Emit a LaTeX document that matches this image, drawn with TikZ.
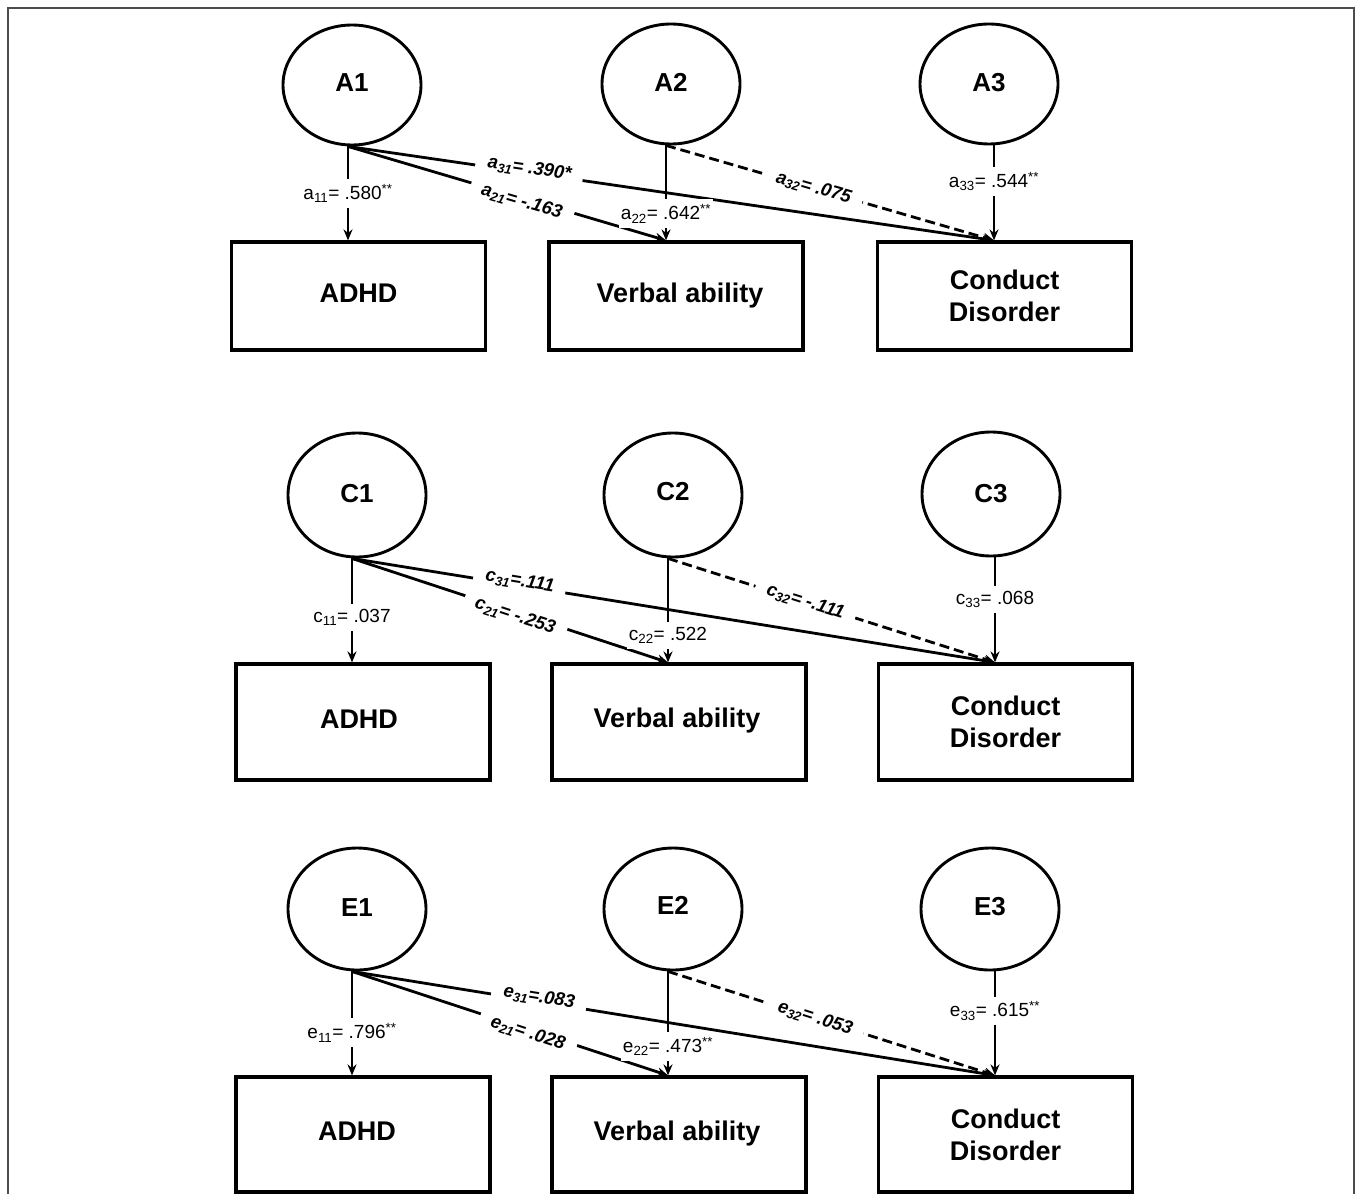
\documentclass[tikz,border=0pt]{standalone}
\usepackage{fontspec}
\setmainfont{Liberation Sans}
\usetikzlibrary{shapes.geometric,arrows.meta}
\begin{document}
\begin{tikzpicture}[x=1pt,y=-1pt]
\tikzset{
 lat/.style={ellipse, draw, line width=2.9pt, minimum width=138pt, minimum height=120pt, inner sep=0pt, font=\fontsize{26}{30}\selectfont\bfseries},
 obs/.style={rectangle, draw, line width=3.2pt, minimum width=254pt, inner sep=0pt, font=\fontsize{27}{32}\selectfont\bfseries, align=center},
 pth/.style={line width=2.8pt, -{Stealth[length=11pt,width=9pt]}},
 dpth/.style={pth, dash pattern=on 10pt off 5pt},
 vlab/.style={fill=white, inner xsep=2pt, inner ysep=5pt, font=\fontsize{19}{21}\selectfont},
 dlab/.style={fill=white, sloped, inner xsep=12pt, inner ysep=0pt, font=\fontsize{18.5}{20}\selectfont\bfseries\itshape},
}
\newcommand\up[2]{\raisebox{#1pt}{#2}}
\useasboundingbox (0,0) rectangle (1356,1193);
\clip (0,0) rectangle (1356,1193);
\fill[white] (0,0) rectangle (1356,1193);
\draw[gray!60!black, line width=1.2pt] (8,8) rectangle (1354,1240);

% ---------- top panel ----------
\node[lat] (A1) at (352,85) {\up{4}{A1}};
\node[lat] (A2) at (671,84) {\up{4}{A2}};
\node[lat] (A3) at (989,84) {\up{4}{A3}};
\node[obs, minimum height=108pt] (ADHDa) at (358.5,296) {\up{5}{ADHD}};
\node[obs, minimum height=108pt] (VAa) at (676,296) {\hspace{8pt}\up{4}{Verbal ability}};
\node[obs, minimum height=108pt] (CDa) at (1004.5,296) {Conduct\\Disorder};
\coordinate (A1s) at ([xshift=-4pt]A1.south);
\coordinate (A2s) at ([xshift=-5pt]A2.south);
\coordinate (A3s) at ([xshift=5pt]A3.south);
\coordinate (VAat) at (A2s |- VAa.north);
\coordinate (CDat) at (A3s |- CDa.north);
\draw[pth] (A1s) -- node[vlab,pos=0.5]{a\textsubscript{11}= .580\textsuperscript{**}} (A1s |- ADHDa.north);
\draw[pth] (A1s) -- node[dlab,pos=0.55,yshift=-4pt]{a\textsubscript{21}= -.163} (VAat);
\draw[pth] (A1s) -- node[dlab,pos=0.28,yshift=4pt]{a\textsubscript{31}= .390*} (CDat);
\draw[pth] (A2s) -- node[vlab,pos=0.72]{a\textsubscript{22}= .642\textsuperscript{**}} (VAat);
\draw[dpth] (A2s) -- node[dlab,pos=0.45]{a\textsubscript{32}= .075} (CDat);
\draw[pth] (A3s) -- node[vlab,pos=0.38]{a\textsubscript{33}= .544\textsuperscript{**}} (CDat);

% ---------- middle panel ----------
\node[lat, minimum height=124pt] (C1) at (357,495) {\up{3}{C1}};
\node[lat, minimum height=124pt] (C2) at (673,495) {\up{8}{C2}};
\node[lat, minimum height=124pt] (C3) at (991,494) {\up{2}{C3}};
\node[obs, minimum height=116pt] (ADHDc) at (363,722) {\hspace{-8pt}\up{6}{ADHD}};
\node[obs, minimum height=116pt] (VAc) at (679,722) {\hspace{-4pt}\up{8}{Verbal ability}};
\node[obs, minimum height=116pt] (CDc) at (1005.5,722) {Conduct\\Disorder};
\coordinate (C1s) at ([xshift=-5pt]C1.south);
\coordinate (C2s) at ([xshift=-5pt]C2.south);
\coordinate (C3s) at ([xshift=4pt]C3.south);
\coordinate (VAct) at (C2s |- VAc.north);
\coordinate (CDct) at (C3s |- CDc.north);
\draw[pth] (C1s) -- node[vlab,pos=0.57]{c\textsubscript{11}= .037} (C1s |- ADHDc.north);
\draw[pth] (C1s) -- node[dlab,pos=0.52,yshift=-4pt]{c\textsubscript{21}= -.253} (VAct);
\draw[pth] (C1s) -- node[dlab,pos=0.26,yshift=4pt]{c\textsubscript{31}=.111} (CDct);
\draw[pth] (C2s) -- node[vlab,pos=0.74]{c\textsubscript{22}= .522} (VAct);
\draw[dpth] (C2s) -- node[dlab,pos=0.42]{c\textsubscript{32}= -.111} (CDct);
\draw[pth] (C3s) -- node[vlab,pos=0.4]{c\textsubscript{33}= .068} (CDct);

% ---------- bottom panel ----------
\node[lat, minimum height=122pt] (E1) at (357,909) {\up{2}{E1}};
\node[lat, minimum height=122pt] (E2) at (673,909) {\up{7}{E2}};
\node[lat, minimum height=122pt] (E3) at (990,909) {\up{6}{E3}};
\node[obs, minimum height=115pt] (ADHDe) at (363,1134.5) {\hspace{-12pt}\up{6}{ADHD}};
\node[obs, minimum height=115pt] (VAe) at (679,1134.5) {\hspace{-4pt}\up{7}{Verbal ability}};
\node[obs, minimum height=115pt] (CDe) at (1005.5,1134.5) {Conduct\\Disorder};
\coordinate (E1s) at ([xshift=-5pt]E1.south);
\coordinate (E2s) at ([xshift=-5pt]E2.south);
\coordinate (E3s) at ([xshift=5pt]E3.south);
\coordinate (VAet) at (E2s |- VAe.north);
\coordinate (CDet) at (E3s |- CDe.north);
\draw[pth] (E1s) -- node[vlab,pos=0.59]{e\textsubscript{11}= .796\textsuperscript{**}} (E1s |- ADHDe.north);
\draw[pth] (E1s) -- node[dlab,pos=0.56,yshift=-4pt]{e\textsubscript{21}= .028} (VAet);
\draw[pth] (E1s) -- node[dlab,pos=0.29,yshift=4pt]{e\textsubscript{31}=.083} (CDet);
\draw[pth] (E2s) -- node[vlab,pos=0.72]{e\textsubscript{22}= .473\textsuperscript{**}} (VAet);
\draw[dpth] (E2s) -- node[dlab,pos=0.45]{e\textsubscript{32}= .053} (CDet);
\draw[pth] (E3s) -- node[vlab,pos=0.38]{e\textsubscript{33}= .615\textsuperscript{**}} (CDet);
\end{tikzpicture}
\end{document}
